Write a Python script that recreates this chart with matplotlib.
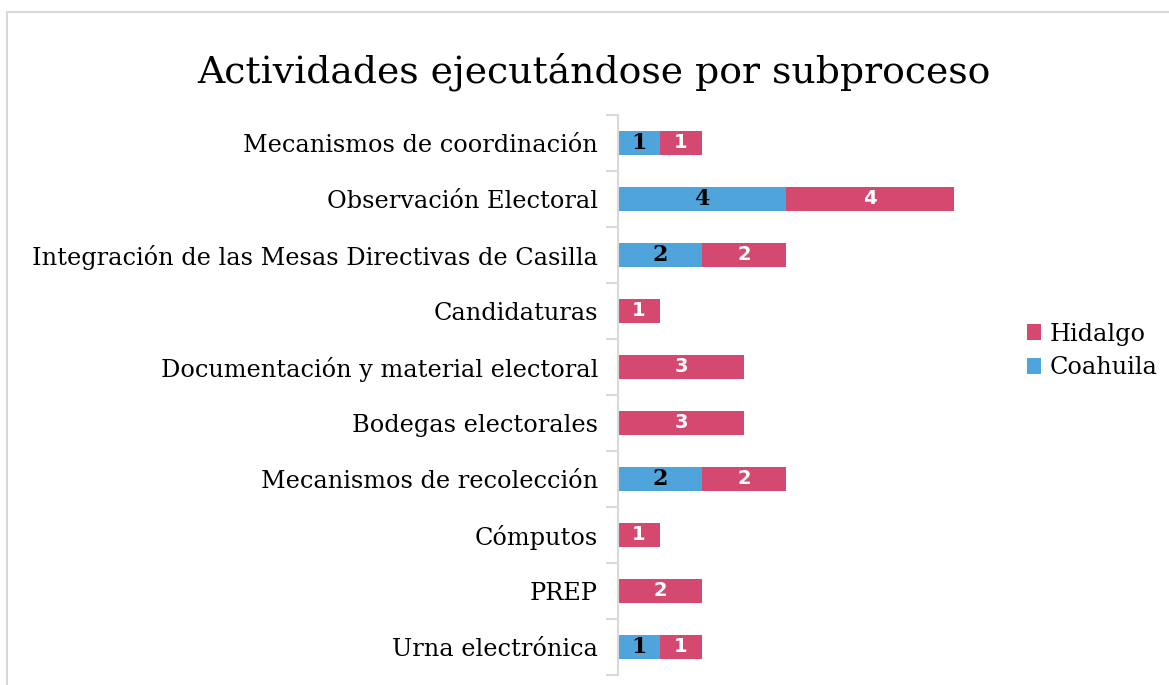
import matplotlib.pyplot as plt
from matplotlib.patches import Rectangle

# data
subprocesos = ["Mecanismos de coordinación", "Observación Electoral",
               "Integración de las Mesas Directivas de Casilla", "Candidaturas",
               "Documentación y material electoral", "Bodegas electorales",
               "Mecanismos de recolección", "Cómputos", "PREP", "Urna electrónica"]
coahuila = [1, 4, 2, 0, 0, 0, 2, 0, 0, 1]
hidalgo = [1, 4, 2, 1, 3, 3, 2, 1, 2, 1]

azul = "#4FA5DB"
rosa = "#D5486F"

plt.rcParams['font.family'] = 'DejaVu Serif'
fig = plt.figure(figsize=(11.69, 6.85), dpi=100)
W, H = 1169, 685
ax = fig.add_axes([618 / W, 1 - 675 / H, (996 - 618) / W, (675 - 115) / H])

# marco gris de la figura
fig.patches.append(Rectangle((7 / W, -0.1), 1.1, 1 - 12 / H + 0.1, transform=fig.transFigure,
                             fill=False, edgecolor="#D9D9D9", linewidth=1.5, clip_on=False))

y = list(range(len(subprocesos)))
ax.barh(y, coahuila, height=0.42, color=azul, label="Coahuila")
ax.barh(y, hidalgo, left=coahuila, height=0.42, color=rosa, label="Hidalgo")

for i in y:
    if coahuila[i] > 0:
        ax.text(coahuila[i] / 2, i, str(coahuila[i]), ha="center", va="center",
                fontsize=16, fontweight="bold", color="black")
    ax.text(coahuila[i] + hidalgo[i] / 2, i, str(hidalgo[i]), ha="center", va="center",
            fontsize=14, fontweight="bold", color="white", family="DejaVu Sans")

ax.set_xlim(0, 9)
ax.set_ylim(len(subprocesos) - 0.5, -0.5)
ax.set_yticks(y)
ax.set_yticklabels(subprocesos, fontsize=17.3)
ax.set_yticks([i - 0.5 for i in range(len(subprocesos) + 1)], minor=True)
ax.tick_params(axis="y", which="major", length=0, pad=14.4)
ax.tick_params(axis="y", which="minor", length=9, color="#D9D9D9", width=1.5)
ax.set_xticks([])
for s in ["top", "right", "bottom"]:
    ax.spines[s].set_visible(False)
ax.spines["left"].set_color("#D9D9D9")
ax.spines["left"].set_linewidth(1.5)

h, l = ax.get_legend_handles_labels()
fig.legend(h[::-1], l[::-1], loc="center left", bbox_to_anchor=(1005 / W, 1 - 351 / H),
           frameon=False, fontsize=17.3, handlelength=0.6, handleheight=0.6,
           handletextpad=0.35, labelspacing=0.45)

fig.text(594 / W, 1 - 72 / H, "Actividades ejecutándose por subproceso", ha="center",
         va="center", fontsize=27.2)

fig.savefig("out.png", dpi=100)
